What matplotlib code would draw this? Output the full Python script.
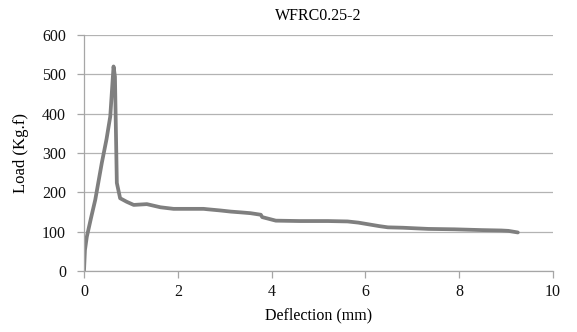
import matplotlib
matplotlib.use("Agg")
import matplotlib.pyplot as plt

deflection = [0.0, 0.02, 0.06, 0.15, 0.24, 0.38, 0.48, 0.56, 0.63, 0.66, 0.70, 0.77, 0.91, 1.06, 1.34,
              1.63, 1.91, 2.06, 2.55, 2.63, 2.90, 3.13, 3.35, 3.55, 3.77, 3.80, 4.09, 4.60, 5.20,
              5.62, 5.85, 6.05, 6.30, 6.48, 6.80, 7.34, 7.90, 8.48, 8.90, 9.05, 9.25]
load = [0, 53, 87, 135, 181, 275, 335, 393, 520, 494, 224, 185, 176, 168, 170,
        162, 158, 158, 158, 157, 154, 151, 149, 147, 143, 137, 128, 127, 127,
        126, 123, 119, 114, 111, 110, 107, 106, 104, 103, 102, 98]

title = "WFRC0.25-2"
xlabel = "Deflection (mm)"
ylabel = "Load (Kg.f)"
xticks = [0, 2, 4, 6, 8, 10]
yticks = [0, 100, 200, 300, 400, 500, 600]

plt.rcParams['font.family'] = ['Liberation Serif', 'DejaVu Serif']
fig = plt.figure(figsize=(5.77, 3.32), dpi=100)
ax = fig.add_axes([84/577, 61/332, (553-84)/577, (271-35)/332])

ax.plot(deflection, load, color='#7f7f7f', lw=2.7, solid_joinstyle='round', solid_capstyle='round')

ax.set_xlim(0, 10)
ax.set_ylim(0, 600)
ax.set_xticks(xticks)
ax.set_yticks(yticks)
ax.yaxis.grid(True, color='#b3b3b3', lw=0.9)
ax.set_axisbelow(True)
for s in ['top', 'right']:
    ax.spines[s].set_visible(False)
for s in ['left', 'bottom']:
    ax.spines[s].set_color('#a6a6a6')
    ax.spines[s].set_linewidth(0.9)
ax.tick_params(axis='both', direction='out', length=5, width=0.9, color='#a6a6a6',
               labelsize=11.5)
ax.tick_params(axis='y', pad=8)
ax.tick_params(axis='x', pad=4)
for lbl in ax.get_xticklabels() + ax.get_yticklabels():
    lbl.set_color('#111111')

ax.set_title(title, fontsize=11.5, pad=11)
ax.set_xlabel(xlabel, fontsize=11.5, labelpad=6)
ax.set_ylabel(ylabel, fontsize=12, labelpad=9)

fig.savefig("out.png", dpi=100)
